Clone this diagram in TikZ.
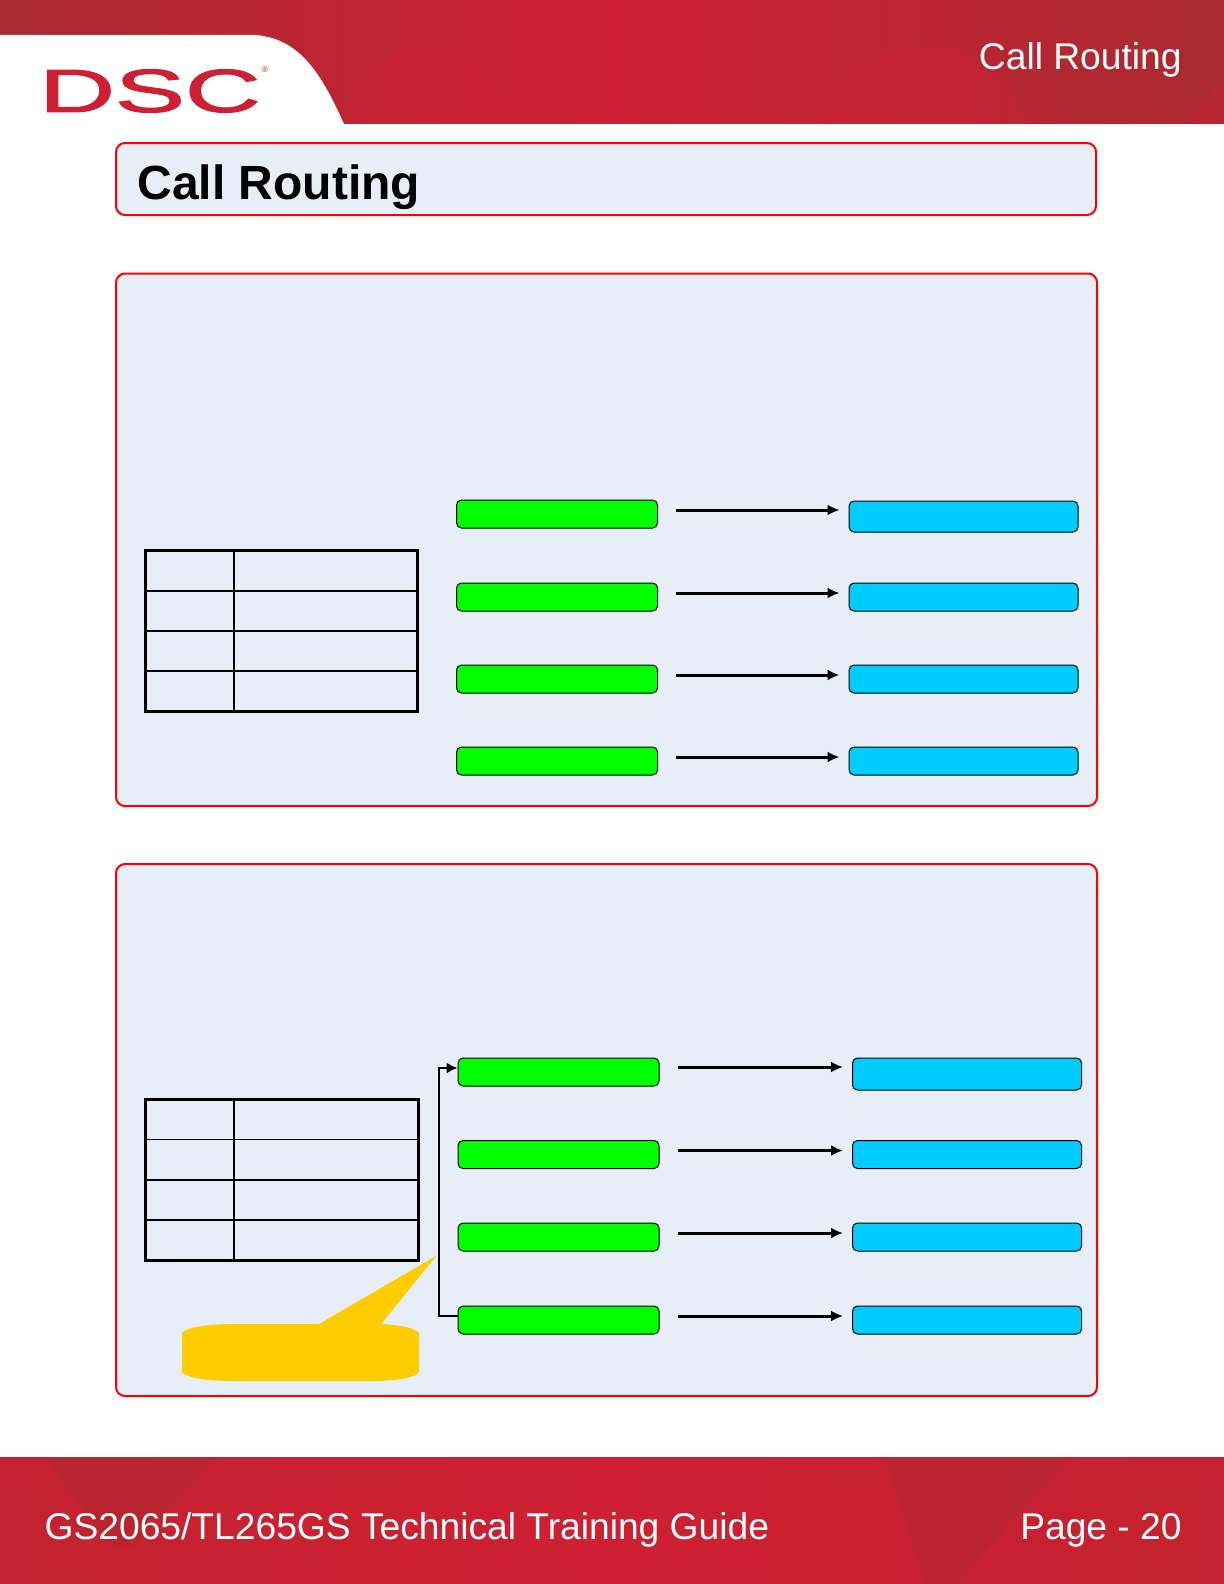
\documentclass[tikz,border=0pt]{standalone}
\usepackage{fontspec}
\setmainfont{Liberation Sans}
\newfontfamily\logofont[FakeBold=1.6]{Liberation Sans}
\usetikzlibrary{arrows.meta}
\pgfdeclarelayer{backlayer}
\pgfdeclarelayer{edgelayer}
\pgfdeclarelayer{nodelayer}
\pgfsetlayers{backlayer,main,edgelayer,nodelayer}
\definecolor{dscred}{HTML}{CE2032}
\definecolor{dscmid}{HTML}{C42230}
\definecolor{dscdark}{HTML}{A92A30}
\definecolor{panelblue}{HTML}{E8EEF8}
\definecolor{routegreen}{HTML}{00FF00}
\definecolor{routeblue}{HTML}{00CCFF}
\definecolor{noteyellow}{HTML}{FFCC00}
\tikzstyle{headband}=[left color=dscdark, right color=dscdark, middle color=dscred, draw=none]
\tikzstyle{footband}=[left color=dscmid, right color=dscmid, middle color=dscred, draw=none]
\tikzstyle{patch}=[fill=dscdark, opacity=0.45, draw=none]
\tikzstyle{bump}=[fill=dscred, opacity=0.4, draw=none]
\tikzstyle{panel}=[draw=red, line width=1pt, fill=panelblue, rounded corners=4.5pt]
\tikzstyle{source}=[rectangle, draw=black, line width=0.5pt, fill=routegreen, rounded corners=2.5pt, inner sep=0pt, minimum width=100.5pt, minimum height=14pt]
\tikzstyle{target}=[rectangle, draw=black, line width=0.5pt, fill=routeblue, rounded corners=2.5pt, inner sep=0pt, minimum width=114.5pt, minimum height=14pt]
\tikzstyle{routeedge}=[draw=black, line width=1.5pt, -{Latex[length=6pt, width=5.5pt]}]
\tikzstyle{linkedge}=[draw=black, line width=0.9pt, -{Latex[length=5.5pt, width=5.5pt]}]
\tikzstyle{gridedge}=[draw=black, line width=0.6pt]
\tikzstyle{gridframe}=[draw=black, line width=1.5pt]
\tikzstyle{headtext}=[text=white, font=\fontsize{18.6}{22}\selectfont, inner sep=0pt, anchor=base east]

\begin{document}
\begin{tikzpicture}[x=0.5pt, y=-0.5pt]
	\useasboundingbox (0, 0) rectangle (1224, 1584);
	\begin{pgfonlayer}{backlayer}
		\fill [white] (0, 0) rectangle (1224, 1584);
		% header and footer bands
		\fill [style=headband] (0, 0) rectangle (1224, 124);
		\begin{scope}
			\clip (0, 0) rectangle (1224, 124);
			\fill [style=bump] (430, 150) ellipse (85 and 105);
			\fill [style=bump] (925, 150) ellipse (105 and 105);
			\fill [style=bump] (1224, 80) -- (1224, 124) -- (1185, 124) -- cycle;
		\end{scope}
		\fill [white] (0, 35) -- (255, 35) .. controls (300, 38) and (322, 75) .. (344, 124) -- (0, 124) -- cycle;
		\fill [style=footband] (0, 1457) rectangle (1224, 1584);
		\fill [style=patch] (45, 1457) -- (215, 1457) -- (135, 1545) -- (110, 1545) -- cycle;
		\fill [style=patch] (885, 1457) -- (1070, 1457) -- (955, 1584) -- (925, 1584) -- cycle;
		\draw [style=panel] (116, 143) rectangle (1096, 215);
		\draw [style=panel] (116, 273.5) rectangle (1097, 806);
		\draw [style=panel] (116, 864) rectangle (1097, 1396);
	\end{pgfonlayer}
	\node [text=dscred, font=\logofont\fontsize{30.5}{30}\selectfont, xscale=1.72, inner sep=0pt, anchor=base] (logo) at (150, 112) {DSC};
	\node [text=dscred, font=\fontsize{4}{4}\selectfont, inner sep=0pt] (mark) at (265, 70) {®};
	\node [style=headtext] (head) at (1182, 70) {Call Routing};
	\node [font=\bfseries\fontsize{24}{28}\selectfont, inner sep=0pt, anchor=base west] (title) at (137, 199) {Call Routing};
	\node [style=headtext] (guide) at (769.5, 1539) {GS2065/TL265GS Technical Training Guide};
	\node [style=headtext] (page) at (1182, 1539) {Page - 20};

	% first panel
	\draw [style=gridframe] (145.5, 550.5) rectangle (417.5, 711);
	\draw [style=gridedge] (145.5, 591) to (417.5, 591);
	\draw [style=gridedge] (145.5, 631) to (417.5, 631);
	\draw [style=gridedge] (145.5, 671) to (417.5, 671);
	\draw [style=gridedge] (234, 550.5) to (234, 711);
	\begin{pgfonlayer}{nodelayer}
		\node [style=source] (g1) at (557, 514) {};
		\node [style=source] (g2) at (557, 597) {};
		\node [style=source] (g3) at (557, 679) {};
		\node [style=source] (g4) at (557, 761) {};
		\node [style=target, minimum height=15.5pt] (b1) at (963.5, 516.5) {};
		\node [style=target] (b2) at (963.5, 597) {};
		\node [style=target] (b3) at (963.5, 679) {};
		\node [style=target] (b4) at (963.5, 761) {};
	\end{pgfonlayer}
	\begin{pgfonlayer}{edgelayer}
		\draw [style=routeedge] ([xshift=9pt, yshift=2pt]g1.east) to ([xshift=-4.5pt, yshift=3.25pt]b1.west);
		\draw [style=routeedge] ([xshift=9pt, yshift=2pt]g2.east) to ([xshift=-4.5pt, yshift=2pt]b2.west);
		\draw [style=routeedge] ([xshift=9pt, yshift=2pt]g3.east) to ([xshift=-4.5pt, yshift=2pt]b3.west);
		\draw [style=routeedge] ([xshift=9pt, yshift=2pt]g4.east) to ([xshift=-4.5pt, yshift=2pt]b4.west);
	\end{pgfonlayer}

	% second panel
	\draw [style=gridframe] (145.5, 1099.5) rectangle (418.5, 1260.5);
	\draw [style=gridedge] (145.5, 1139.5) to (418.5, 1139.5);
	\draw [style=gridedge] (145.5, 1180) to (418.5, 1180);
	\draw [style=gridedge] (145.5, 1220) to (418.5, 1220);
	\draw [style=gridedge] (234, 1099.5) to (234, 1260.5);
	\fill [noteyellow] (182, 1333) .. controls (186, 1327) and (210, 1324) .. (235, 1324) -- (319, 1324) -- (436, 1256) -- (381, 1324) .. controls (400, 1325) and (415, 1328) .. (419, 1333) -- (419, 1372) .. controls (415, 1378) and (395, 1381) .. (370, 1381) -- (235, 1381) .. controls (210, 1381) and (186, 1378) .. (182, 1372) -- cycle;
	\begin{pgfonlayer}{nodelayer}
		\node [style=source] (h1) at (558.5, 1072) {};
		\node [style=source] (h2) at (558.5, 1154.5) {};
		\node [style=source] (h3) at (558.5, 1237) {};
		\node [style=source] (h4) at (558.5, 1320) {};
		\node [style=target, minimum height=16pt] (k1) at (967, 1074) {};
		\node [style=target] (k2) at (967, 1154.5) {};
		\node [style=target] (k3) at (967, 1237) {};
		\node [style=target] (k4) at (967, 1320) {};
		\coordinate (bend1) at (439, 1068);
		\coordinate (bend2) at (439, 1316);
	\end{pgfonlayer}
	\begin{pgfonlayer}{edgelayer}
		\draw [style=routeedge] ([xshift=9.25pt, yshift=2.5pt]h1.east) to ([xshift=-4.5pt, yshift=3.5pt]k1.west);
		\draw [style=routeedge] ([xshift=9.25pt, yshift=2pt]h2.east) to ([xshift=-4.5pt, yshift=2pt]k2.west);
		\draw [style=routeedge] ([xshift=9.25pt, yshift=2pt]h3.east) to ([xshift=-4.5pt, yshift=2pt]k3.west);
		\draw [style=routeedge] ([xshift=9.25pt, yshift=2pt]h4.east) to ([xshift=-4.5pt, yshift=2pt]k4.west);
		\draw [style=linkedge] ([yshift=2pt]h4.west) -- (bend2) -- (bend1) -- ([yshift=2pt]h1.west);
	\end{pgfonlayer}
\end{tikzpicture}
\end{document}
